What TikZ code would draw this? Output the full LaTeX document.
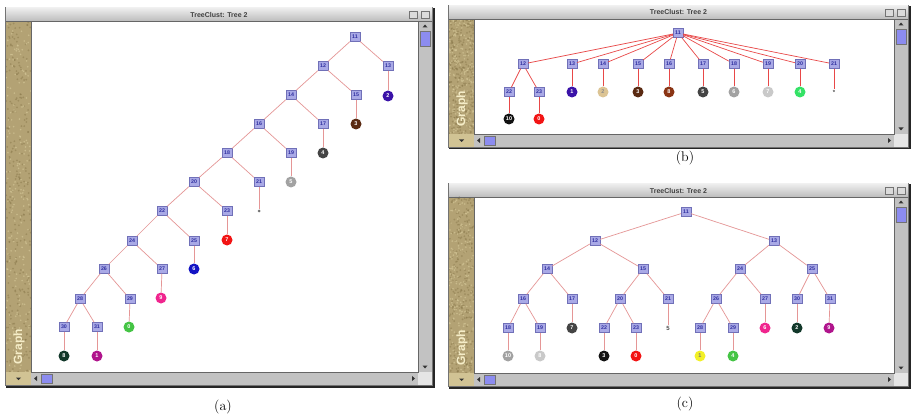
\documentclass[tikz,border=0pt]{standalone}
\usepackage{fontspec}
\newfontfamily\uifont{Liberation Sans}
\usetikzlibrary{calc}
\definecolor{boxfill}{HTML}{A9A9E6}
\definecolor{boxdraw}{HTML}{7070B8}
\definecolor{boxtext}{HTML}{3030A0}
\definecolor{edgepink}{HTML}{E59696}
\definecolor{edgered}{HTML}{E84848}
\definecolor{tanbase}{HTML}{B3A274}
\definecolor{tandark}{HTML}{857447}
\definecolor{tanlight}{HTML}{D8CB9C}
\definecolor{chrome}{HTML}{C2C2C2}
\definecolor{thumbc}{HTML}{8C8CF0}
\definecolor{graphtxt}{HTML}{F5EDC8}
\definecolor{cindigo}{HTML}{3A12A8}
\definecolor{cbrown}{HTML}{5A2A12}
\definecolor{crust}{HTML}{8A3414}
\definecolor{cdgray}{HTML}{444444}
\definecolor{cgray}{HTML}{A2A2A2}
\definecolor{clgray}{HTML}{C9C9C9}
\definecolor{cred}{HTML}{F21414}
\definecolor{cblue}{HTML}{1414C4}
\definecolor{cpink}{HTML}{F0258E}
\definecolor{cgreen}{HTML}{44C444}
\definecolor{cbgreen}{HTML}{34E266}
\definecolor{cteal}{HTML}{12382A}
\definecolor{cmag}{HTML}{B0148C}
\definecolor{ctan}{HTML}{DCC494}
\definecolor{cblack}{HTML}{121212}
\definecolor{cyellow}{HTML}{F2F026}
\tikzset{
  tbox/.style={rectangle, fill=boxfill, draw=boxdraw, line width=0.35pt,
    minimum width=10pt, minimum height=9pt, inner sep=0pt, text=boxtext,
    font=\uifont\bfseries\fontsize{5.3}{6}\selectfont},
  leafc/.style={circle, fill=#1, minimum size=11pt, inner sep=0pt, text=white,
    font=\uifont\bfseries\fontsize{5.5}{6}\selectfont},
  dotleaf/.style={inner sep=0.5pt, text=black!70, font=\uifont\bfseries\fontsize{6}{6}\selectfont},
  eA/.style={draw=edgepink, line width=0.7pt},
  eB/.style={draw=edgered, line width=0.7pt},
  capt/.style={font=\fontsize{14}{16}\selectfont},
  arr/.style={fill=black!80},
}
% #1 prefix, #2 x0, #3 y0, #4 x1, #5 y1
\newcommand{\macwin}[5]{%
  \fill[black!85] ({#2+1},{#3+1}) rectangle ({#4+1.5},{#5+1.5});
  \fill[black!55] (#2,#3) rectangle (#4,#5);
  \shade[top color=white!93!black, bottom color=white!74!black] ({#2+1},{#3+1}) rectangle ({#4-1},{#3+14});
  \node[font=\uifont\bfseries\fontsize{7}{8}\selectfont, text=black!75] (#1title) at ({(#2+#4)/2},{#3+7.5}) {TreeClust: Tree 2};
  \draw[black!55, fill=white!86!black, line width=0.4pt] ({#4-24},{#3+4}) rectangle ({#4-16},{#3+11});
  \draw[black!55, fill=white!86!black, line width=0.4pt] ({#4-12},{#3+4}) rectangle ({#4-4},{#3+11});
  \fill[white] ({#2+26},{#3+14}) rectangle ({#4-15},{#5-14});
  \begin{scope}
    \clip ({#2+1},{#3+14}) rectangle ({#2+26},{#5-14});
    \fill[tanbase] ({#2+1},{#3+14}) rectangle ({#2+26},{#5-14});
    \foreach \k in {1,...,260} {\fill[tandark, opacity=0.45] ({#2+1+25*rnd},{#3+14+(#5-#3-28)*rnd}) circle (1);}
    \foreach \k in {1,...,200} {\fill[tanlight, opacity=0.6] ({#2+1+25*rnd},{#3+14+(#5-#3-28)*rnd}) circle (0.9);}
  \end{scope}
  \node[rotate=90, anchor=west, font=\uifont\bfseries\fontsize{12}{13}\selectfont, text=graphtxt] (#1graph) at ({#2+14},{#5-18}) {Graph};
  \fill[tanlight!80!tanbase] ({#2+1},{#5-14}) rectangle ({#2+26},{#5-1});
  \fill[arr] ({#2+11},{#5-8.5}) -- ({#2+16},{#5-8.5}) -- ({#2+13.5},{#5-6}) -- cycle;
  \fill[chrome] ({#2+26},{#5-14}) rectangle ({#4-15},{#5-1});
  \fill[arr] ({#2+29},{#5-7.5}) -- ({#2+32},{#5-10}) -- ({#2+32},{#5-5}) -- cycle;
  \draw[black!55, fill=thumbc, line width=0.4pt] ({#2+36},{#5-12}) rectangle ({#2+47},{#5-3});
  \fill[arr] ({#4-18},{#5-7.5}) -- ({#4-21},{#5-10}) -- ({#4-21},{#5-5}) -- cycle;
  \fill[chrome] ({#4-15},{#3+14}) rectangle ({#4-1},{#5-14});
  \fill[arr] ({#4-8},{#3+17.5}) -- ({#4-10.5},{#3+20.5}) -- ({#4-5.5},{#3+20.5}) -- cycle;
  \draw[black!55, fill=thumbc, line width=0.4pt] ({#4-13},{#3+24}) rectangle ({#4-3},{#3+39});
  \fill[arr] ({#4-8},{#5-17.5}) -- ({#4-10.5},{#5-20.5}) -- ({#4-5.5},{#5-20.5}) -- cycle;
  \fill[white!90!black] ({#4-15},{#5-14}) rectangle ({#4-1},{#5-1});
  \draw[black!60, line width=0.5pt] ({#2+26},{#3+14}) rectangle ({#4-15},{#5-14});
  \draw[black!60, line width=0.5pt] ({#2+1},{#3+14}) -- ({#4-1},{#3+14});
}
\begin{document}
\begin{tikzpicture}[x=1pt, y=-1pt]
\pgfmathsetseed{7}
\useasboundingbox (0,0) rectangle (911,417);
\fill[white] (0,0) rectangle (911,417);
\macwin{wa}{5}{7}{433}{386}
\macwin{wb}{448}{5}{909}{148}
\macwin{wc}{448}{183}{909}{387}

% ---------- (a) ----------
\node[tbox] (a11) at (355,37) {11};
\node[tbox] (a12) at (323,66) {12};
\node[tbox] (a13) at (388,66) {13};
\node[leafc=cindigo] (a13l) at (388,96) {2};
\node[tbox] (a14) at (291,95) {14};
\node[tbox] (a15) at (356,95) {15};
\node[leafc=cbrown] (a15l) at (356,124) {3};
\node[tbox] (a16) at (259,124) {16};
\node[tbox] (a17) at (323,124) {17};
\node[leafc=cdgray] (a17l) at (323,153) {4};
\node[tbox] (a18) at (227,153) {18};
\node[tbox] (a19) at (291,153) {19};
\node[leafc=cgray] (a19l) at (291,182) {5};
\node[tbox] (a20) at (194,182) {20};
\node[tbox] (a21) at (259,182) {21};
\node[circle, fill=black!55, inner sep=0pt, minimum size=3pt] (a21l) at (259,211) {};
\node[tbox] (a22) at (162,211) {22};
\node[tbox] (a23) at (227,211) {23};
\node[leafc=cred] (a23l) at (227,240) {7};
\node[tbox] (a24) at (132,241) {24};
\node[tbox] (a25) at (194,241) {25};
\node[leafc=cblue] (a25l) at (194,269) {6};
\node[tbox] (a26) at (104,269) {26};
\node[tbox] (a27) at (162,269) {27};
\node[leafc=cpink] (a27l) at (161,298) {9};
\node[tbox] (a28) at (80,299) {28};
\node[tbox] (a29) at (130,299) {29};
\node[leafc=cgreen] (a29l) at (129,327) {0};
\node[tbox] (a30) at (64,327) {30};
\node[tbox] (a31) at (97,327) {31};
\node[leafc=cteal] (a30l) at (64,356) {8};
\node[leafc=cmag] (a31l) at (97,356) {1};
\foreach \p/\c in {11/12,11/13,13/13l,12/14,12/15,15/15l,14/16,14/17,17/17l,16/18,16/19,19/19l,18/20,18/21,21/21l,20/22,20/23,23/23l,22/24,22/25,25/25l,24/26,24/27,27/27l,26/28,26/29,29/29l,28/30,28/31,30/30l,31/31l}
  \draw[eA] (a\p) -- (a\c);

% ---------- (b) ----------
\node[tbox] (b11) at (678,33) {11};
\node[tbox] (b12) at (523,64) {12};
\node[tbox] (b13) at (572,64) {13};
\node[tbox] (b14) at (603,64) {14};
\node[tbox] (b15) at (638,64) {15};
\node[tbox] (b16) at (669,64) {16};
\node[tbox] (b17) at (703,64) {17};
\node[tbox] (b18) at (734,64) {18};
\node[tbox] (b19) at (768,64) {19};
\node[tbox] (b20) at (800,64) {20};
\node[tbox] (b21) at (834,64) {21};
\node[tbox] (b22) at (509,92) {22};
\node[tbox] (b23) at (539,92) {23};
\node[leafc=cindigo] (b13l) at (572,92) {1};
\node[leafc=ctan, text=black!45] (b14l) at (603,92) {2};
\node[leafc=cbrown] (b15l) at (638,92) {3};
\node[leafc=crust] (b16l) at (669,92) {8};
\node[leafc=cdgray] (b17l) at (703,92) {5};
\node[leafc=cgray] (b18l) at (734,92) {6};
\node[leafc=clgray] (b19l) at (768,92) {7};
\node[leafc=cbgreen] (b20l) at (800,92) {4};
\node[dotleaf] (b21l) at (834,92) {*};
\node[leafc=cblack] (b22l) at (509,119) {10};
\node[leafc=cred] (b23l) at (539,119) {0};
\foreach \c in {12,13,14,15,16,17,18,19,20,21}
  \draw[eB] (b11) -- (b\c);
\foreach \p/\c in {12/22,12/23,22/22l,23/23l,13/13l,14/14l,15/15l,16/16l,17/17l,18/18l,19/19l,20/20l,21/21l}
  \draw[eB] (b\p) -- (b\c);

% ---------- (c) ----------
\node[tbox] (c11) at (686,212) {11};
\node[tbox] (c12) at (595,241) {12};
\node[tbox] (c13) at (774,241) {13};
\node[tbox] (c14) at (547,269) {14};
\node[tbox] (c15) at (643,269) {15};
\node[tbox] (c24) at (740,269) {24};
\node[tbox] (c25) at (812,269) {25};
\node[tbox] (c16) at (523,299) {16};
\node[tbox] (c17) at (572,299) {17};
\node[tbox] (c20) at (620,299) {20};
\node[tbox] (c21) at (668,299) {21};
\node[tbox] (c26) at (716,299) {26};
\node[tbox] (c27) at (765,299) {27};
\node[tbox] (c30) at (797,299) {30};
\node[tbox] (c31) at (830,299) {31};
\node[tbox] (c18) at (508,328) {18};
\node[tbox] (c19) at (540,328) {19};
\node[leafc=cdgray] (c17l) at (572,328) {7};
\node[tbox] (c22) at (604,328) {22};
\node[tbox] (c23) at (636,328) {23};
\node[dotleaf] (c21l) at (668,328) {5};
\node[tbox] (c28) at (700,328) {28};
\node[tbox] (c29) at (733,328) {29};
\node[leafc=cpink] (c27l) at (765,328) {6};
\node[leafc=cteal] (c30l) at (797,328) {2};
\node[leafc=cmag] (c31l) at (829,328) {9};
\node[leafc=cgray] (c18l) at (508,356) {10};
\node[leafc=clgray] (c19l) at (540,356) {8};
\node[leafc=cblack] (c22l) at (604,356) {3};
\node[leafc=cred] (c23l) at (636,356) {0};
\node[leafc=cyellow, text=black!55] (c28l) at (700,356) {1};
\node[leafc=cgreen] (c29l) at (733,356) {4};
\foreach \p/\c in {11/12,11/13,12/14,12/15,13/24,13/25,14/16,14/17,15/20,15/21,24/26,24/27,25/30,25/31,16/18,16/19,17/17l,20/22,20/23,21/21l,26/28,26/29,27/27l,30/30l,31/31l,18/18l,19/19l,22/22l,23/23l,28/28l,29/29l}
  \draw[eA] (c\p) -- (c\c);

% ---------- captions ----------
\node[capt] (capa) at (223,407) {(a)};
\node[capt] (capb) at (685,158) {(b)};
\node[capt] (capc) at (685,404) {(c)};
\end{tikzpicture}
\end{document}
